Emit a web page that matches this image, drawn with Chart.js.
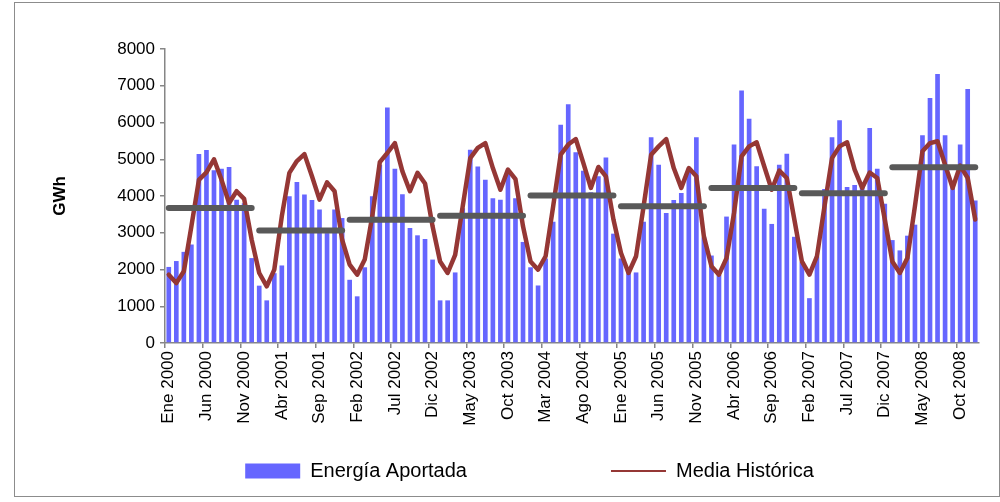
<!DOCTYPE html>
<html lang="es">
<head>
<meta charset="utf-8">
<title>Energía Aportada vs Media Histórica</title>
<script src="https://cdn.jsdelivr.net/npm/chart.js@4.4.1/dist/chart.umd.min.js"></script>
<style>
  html, body { margin: 0; padding: 0; background: #ffffff; }
  #wrap { position: relative; width: 1000px; height: 502px; overflow: hidden; }
  #grafico { position: absolute; left: 0; top: 0; }
  #marco { position: absolute; left: 14px; top: 2px; width: 984px; height: 493px;
           border: 1px solid #8c8c8c; pointer-events: none; }
</style>
</head>
<body>
<div id="wrap">
  <canvas id="grafico" width="1000" height="502"></canvas>
  <div id="marco"></div>
</div>
<script>
// Meses y años del período
const meses = ['Ene', 'Feb', 'Mar', 'Abr', 'May', 'Jun', 'Jul', 'Ago', 'Sep', 'Oct', 'Nov', 'Dic'];
const anios = [2000, 2001, 2002, 2003, 2004, 2005, 2006, 2007, 2008];

// Categorías mensuales: "Ene 2000" ... "Dic 2008"
const categorias = [];
anios.forEach(a => meses.forEach(m => categorias.push(m + ' ' + a)));

// Energía aportada mensual (GWh)
const energia2000 = [2070, 2230, 2480, 2680, 5140, 5250, 4700, 4740, 4790, 3900, 3800, 2310];
const energia2001 = [1560, 1160, 1900, 2110, 3990, 4380, 4040, 3890, 3630, 2990, 3630, 3400];
const energia2002 = [1720, 1270, 2060, 3990, 4850, 6410, 4740, 4050, 3130, 2930, 2830, 2270];
const energia2003 = [1160, 1160, 1920, 3670, 5260, 4800, 4440, 3940, 3900, 4650, 3940, 2750];
const energia2004 = [2060, 1565, 2300, 3300, 5940, 6500, 5190, 4690, 4100, 4535, 5050, 2975];
const energia2005 = [2300, 1900, 1920, 3300, 5600, 4850, 3540, 3890, 4080, 4750, 5600, 2875];
const energia2006 = [2380, 1850, 3440, 5400, 6870, 6100, 4810, 3650, 3240, 4850, 5150, 2890];
const energia2007 = [2200, 1220, 2350, 4190, 5600, 6060, 4245, 4300, 4300, 5850, 4740, 3790];
const energia2008 = [2800, 2520, 2920, 3220, 5650, 6670, 7320, 5650, 4400, 5400, 6910, 3880];

// Media histórica mensual (GWh)
const media2000 = [1860, 1630, 1950, 3175, 4440, 4640, 5000, 4440, 3810, 4130, 3920, 2810];
const media2001 = [1905, 1540, 1995, 3450, 4630, 4950, 5140, 4540, 3900, 4370, 4130, 2810];
const media2002 = [2130, 1860, 2270, 3450, 4920, 5170, 5440, 4670, 4130, 4630, 4340, 3175];
const media2003 = [2220, 1905, 2400, 3720, 5030, 5310, 5440, 4760, 4170, 4720, 4460, 3175];
const media2004 = [2220, 1995, 2360, 3720, 5125, 5400, 5550, 4900, 4220, 4790, 4535, 3360];
const media2005 = [2450, 1905, 2360, 3720, 5125, 5350, 5550, 4760, 4220, 4760, 4535, 2900];
const media2006 = [2090, 1860, 2310, 3540, 5080, 5350, 5460, 4810, 4170, 4690, 4490, 3360];
const media2007 = [2220, 1860, 2360, 3720, 5030, 5350, 5460, 4720, 4220, 4640, 4490, 3360];
const media2008 = [2220, 1905, 2310, 3720, 5220, 5440, 5490, 4850, 4220, 4825, 4490, 3360];

// Promedio anual de la energía aportada (GWh)
const promedioAnual = [3673, 3064, 3355, 3464, 4017, 3718, 4218, 4072, 4779];

// Marcas del eje vertical
const ticksY = [0, 1000, 2000, 3000, 4000, 5000, 6000, 7000, 8000];

const energia = [].concat(energia2000, energia2001, energia2002, energia2003, energia2004,
                          energia2005, energia2006, energia2007, energia2008);
const media = [].concat(media2000, media2001, media2002, media2003, media2004,
                        media2005, media2006, media2007, media2008);
// cada promedio se extiende sobre los 12 meses de su año
const promedioMensual = [];
promedioAnual.forEach(v => { for (let k = 0; k < 12; k++) promedioMensual.push(v); });

const AZUL = 'rgb(102,102,255)';
const ROJO = '#953735';
const GRIS = '#595959';
const EJE = '#868686';
const FUENTE = "'Liberation Sans', Arial, sans-serif";

// Leyenda: altura fija en el diseño y posición propia al dibujar
const LEYENDA_ALTO = 42;
const LEYENDA_IZQ = 80;
const LEYENDA_FILA = 461;
const LEYENDA_SEP = 144;
const ajusteLeyenda = {
  id: 'ajusteLeyenda',
  beforeLayout(chart) {
    const lg = chart.legend;
    if (lg && !lg._altoFijo) {
      const fitOriginal = lg.fit.bind(lg);
      lg.fit = function () { fitOriginal(); this.height = LEYENDA_ALTO; };
      lg._altoFijo = true;
    }
  },
  beforeDraw(chart) {
    const lg = chart.legend;
    if (lg) {
      lg.left = LEYENDA_IZQ;
      lg.top = LEYENDA_FILA - LEYENDA_SEP;
    }
  }
};

new Chart(document.getElementById('grafico'), {
  type: 'bar',
  data: {
    labels: categorias,
    datasets: [
      {
        type: 'bar',
        label: 'Energía Aportada',
        data: energia,
        backgroundColor: AZUL,
        borderWidth: 0,
        categoryPercentage: 1.0,
        barPercentage: 0.62,
        order: 3
      },
      {
        type: 'line',
        label: 'Media Histórica',
        data: media,
        borderColor: ROJO,
        backgroundColor: ROJO,
        borderWidth: 4.5,
        pointRadius: 0,
        tension: 0,
        borderJoinStyle: 'round',
        borderCapStyle: 'round',
        fill: false,
        order: 2
      },
      {
        type: 'line',
        label: 'Promedio anual',
        data: promedioMensual,
        borderColor: GRIS,
        borderWidth: 6,
        borderCapStyle: 'round',
        pointRadius: 0,
        fill: false,
        order: 1,
        segment: {
          // sin trazo entre diciembre y enero: un tramo por año
          borderColor: ctx => (Math.floor(ctx.p0DataIndex / 12) !== Math.floor(ctx.p1DataIndex / 12)) ? 'rgba(0,0,0,0)' : GRIS
        }
      }
    ]
  },
  plugins: [ajusteLeyenda],
  options: {
    responsive: false,
    animation: false,
    devicePixelRatio: 1,
    layout: { padding: { top: 49, right: 21, bottom: 9, left: 0 } },
    plugins: {
      tooltip: { enabled: false },
      title: { display: false },
      legend: {
        display: true,
        position: 'bottom',
        labels: {
          usePointStyle: true,
          pointStyleWidth: 55,
          boxHeight: 15,
          padding: LEYENDA_SEP,
          color: '#000000',
          font: { family: FUENTE, size: 20 },
          generateLabels: () => [
            { text: 'Energía Aportada', fillStyle: AZUL, strokeStyle: AZUL, lineWidth: 0,
              pointStyle: 'rect', datasetIndex: 0, hidden: false, fontColor: '#000000' },
            { text: 'Media Histórica', fillStyle: ROJO, strokeStyle: ROJO, lineWidth: 2,
              pointStyle: 'line', datasetIndex: 1, hidden: false, fontColor: '#000000' }
          ]
        }
      }
    },
    scales: {
      x: {
        type: 'category',
        offset: true,
        afterFit: s => { s.height = 108; },
        grid: {
          offset: true,
          drawOnChartArea: false,
          drawTicks: true,
          tickLength: 5,
          lineWidth: 1.5,
          color: ctx => (ctx.index % 5 === 0 && ctx.index < categorias.length) ? EJE : 'rgba(0,0,0,0)'
        },
        border: { display: true, color: EJE, width: 1.5 },
        ticks: {
          autoSkip: false,
          maxRotation: 90,
          minRotation: 90,
          padding: 3,
          color: '#000000',
          font: { family: FUENTE, size: 17 },
          callback: (v, i) => (i % 5 === 0 ? categorias[i] : '')
        }
      },
      y: {
        min: ticksY[0],
        max: ticksY[ticksY.length - 1],
        afterFit: s => { s.width = 165; },
        afterBuildTicks: s => { s.ticks = ticksY.map(v => ({ value: v })); },
        grid: {
          drawOnChartArea: false,
          drawTicks: true,
          tickLength: 5,
          lineWidth: 1.5,
          color: EJE
        },
        border: { display: true, color: EJE, width: 1.5 },
        ticks: {
          padding: 5,
          color: '#000000',
          font: { family: FUENTE, size: 17 },
          callback: v => String(v)
        },
        title: {
          display: true,
          text: 'GWh',
          color: '#000000',
          font: { family: FUENTE, size: 17, weight: 'bold' },
          padding: { top: 50, bottom: 0 }
        }
      }
    }
  }
});
</script>
</body>
</html>
